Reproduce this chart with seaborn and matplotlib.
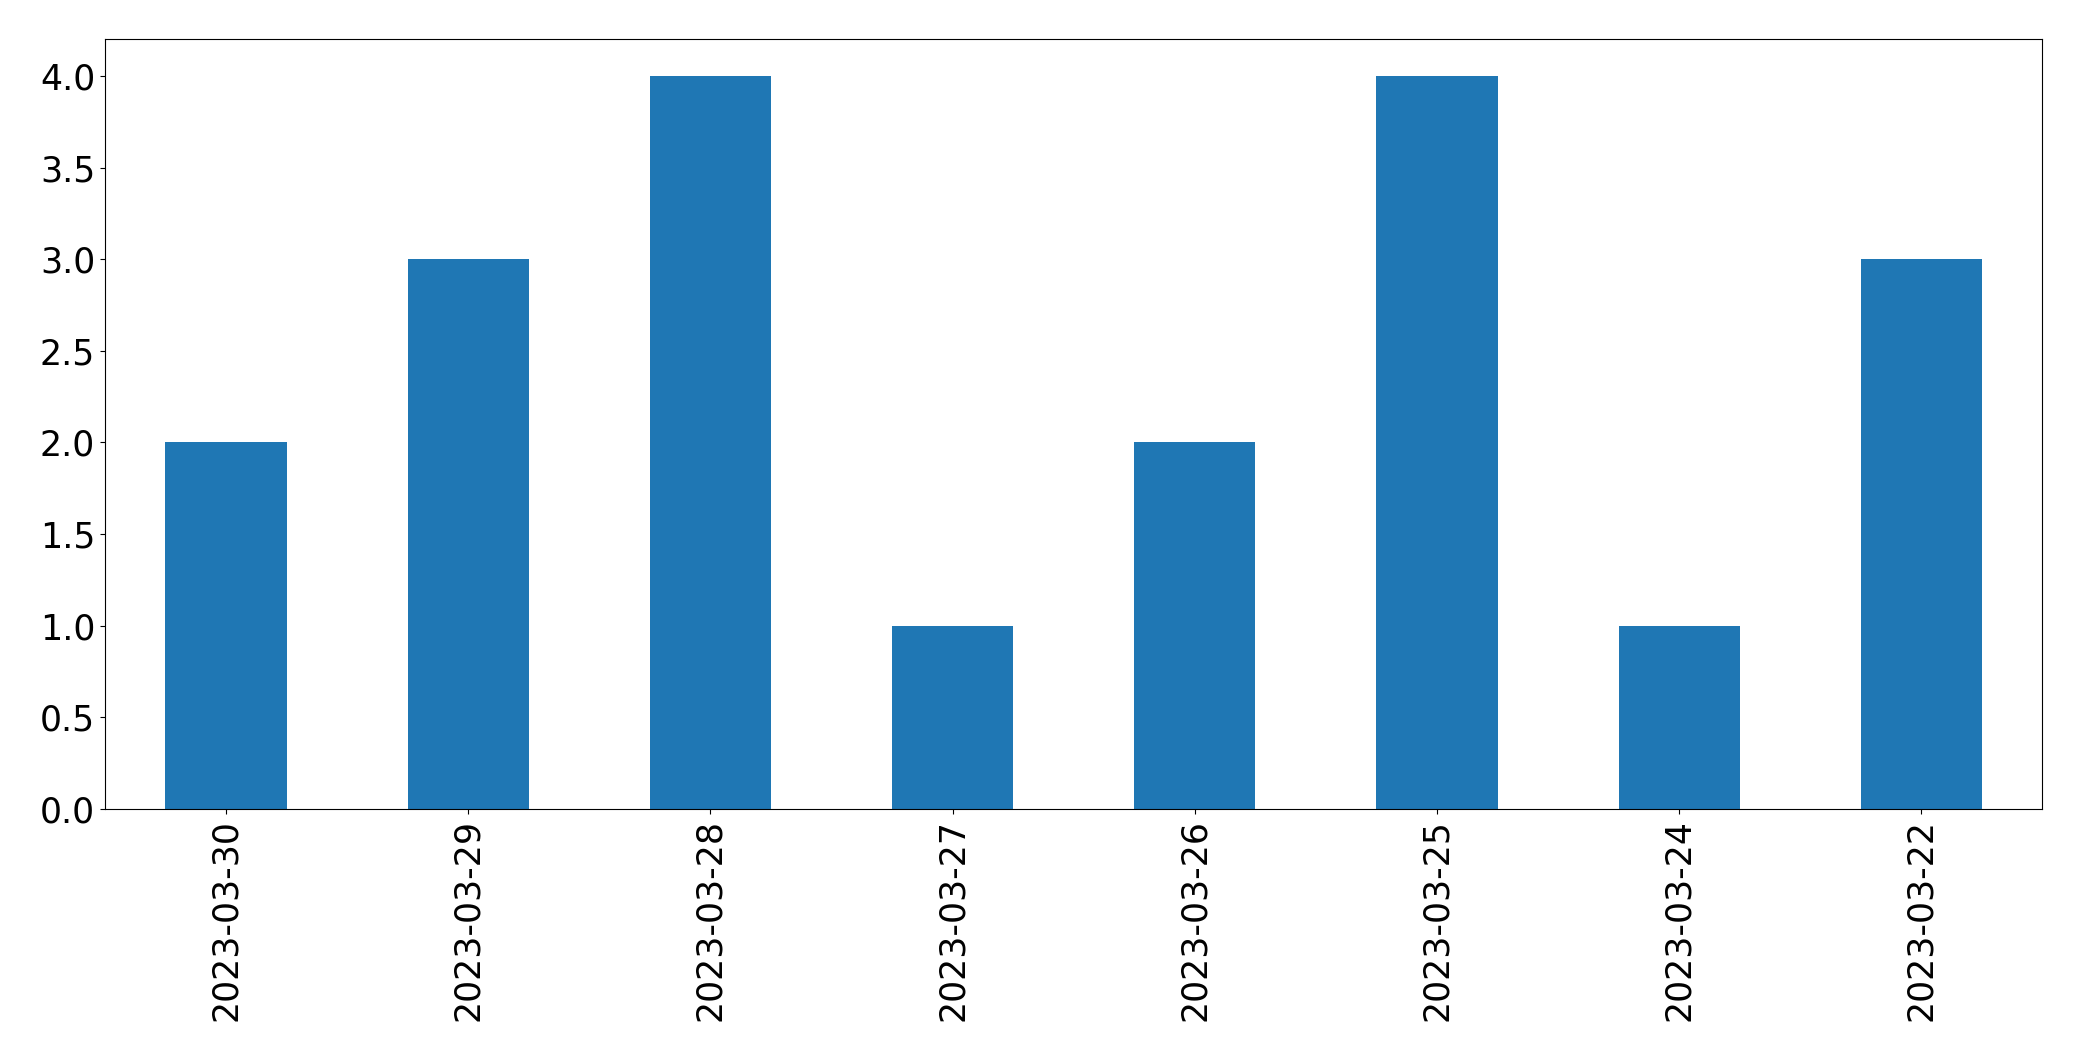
import pandas as pd
import seaborn as sns
import matplotlib.pyplot as plt

# Daily counts, in the order shown on the chart
dates = ['2023-03-30', '2023-03-29', '2023-03-28', '2023-03-27',
         '2023-03-26', '2023-03-25', '2023-03-24', '2023-03-22']
counts = [2, 3, 4, 1, 2, 4, 1, 3]

df = pd.DataFrame({'date': dates, 'count': counts})

fig, ax = plt.subplots(figsize=(20.82, 10.61), dpi=100)
sns.barplot(data=df, x='date', y='count', order=dates, color='#1f77b4',
            saturation=1, width=0.5, ax=ax)

# pandas-like axes limits and look
ax.set_xlim(-0.5, len(dates) - 0.5)
ax.set_ylim(0, 4.2)
ax.set_xlabel('')
ax.set_ylabel('')
ax.tick_params(axis='both', labelsize=25)
ax.tick_params(axis='x', labelrotation=90)

fig.subplots_adjust(left=0.0504, right=0.981, top=0.963, bottom=0.2375)
fig.savefig('out.png', dpi=100)
